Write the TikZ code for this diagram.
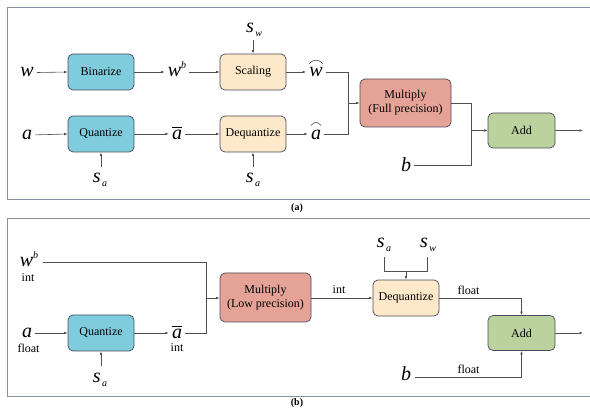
\documentclass[tikz,border=0pt]{standalone}
\usepackage{fontspec}
\setmainfont{Liberation Serif}
\usetikzlibrary{arrows.meta}
\definecolor{lc}{HTML}{505050}
\definecolor{bc}{HTML}{4A4A5A}
\definecolor{fc}{HTML}{8A90A4}
\definecolor{cy}{HTML}{7FCCDD}
\definecolor{pe}{HTML}{FDE8C9}
\definecolor{sa}{HTML}{E5A398}
\definecolor{gr}{HTML}{BCD29E}
\newcommand{\bigit}{\fontsize{20}{20}\selectfont\itshape}
\newcommand{\smit}{\fontsize{10}{10}\selectfont\itshape}
\newcommand{\supb}{\raisebox{8pt}{\smit b}}
\newcommand{\subs}[1]{\kern1.5pt\raisebox{-4pt}{\smit #1}}
\tikzset{
  ln/.style={draw=lc, line width=0.6pt},
  arr/.style={ln, -{Latex[length=3.5pt,width=2.6pt]}},
  box/.style={draw=bc, line width=0.7pt, rounded corners=5pt, minimum width=66pt, minimum height=36pt, inner sep=0pt, font=\fontsize{12}{14}\selectfont, align=center},
  var/.style={inner sep=3pt, font=\bigit},
  tag/.style={inner sep=1pt, font=\fontsize{12}{13}\selectfont},
  frame/.style={draw=fc, line width=0.9pt},
  hatmark/.style={draw=black!80, line width=0.5pt},
  captxt/.style={font=\fontsize{10}{11}\selectfont\bfseries, inner sep=0pt}
}
\begin{document}
\begin{tikzpicture}[x=1pt,y=-1pt]
\useasboundingbox (0,0) rectangle (590,409);
% frames
\draw[frame] (590,7) -- (7,7) -- (7,199) -- (590,199);
\draw[frame] (590,218) -- (7,218) -- (7,396) -- (590,396);
\node[captxt] (capa) at (297,208) {(a)};
\node[captxt] (capb) at (297,403.5) {(b)};

% ---------- panel (a)
\node[box, fill=cy] (bin) at (101,72) {Binarize};
\node[box, fill=cy] (qa) at (101,134) {Quantize};
\node[box, fill=pe] (sc) at (253,72) {Scaling};
\node[box, fill=pe] (dqa) at (253,134) {Dequantize};
\node[box, fill=sa, minimum width=91pt, minimum height=48pt] (mula) at (405.5,103) {Multiply\\(Full precision)};
\node[box, fill=gr, minimum width=67pt, minimum height=35pt] (adda) at (521.5,130.5) {Add};
\coordinate (outa) at (583,130.5);

\node[var, anchor=base] (wa) at (27,77) {w};
\node[var, anchor=base] (aa) at (27,139.5) {a};
\node[var, anchor=base] (wba) at (177,77) {w\supb};
\node[var, anchor=base] (abara) at (177,139.5) {$\overline{\hbox{\bigit\rule{0pt}{11pt}a}}$};
\node[var, anchor=base] (wha) at (316,77) {w};
\node[var, anchor=base] (aha) at (316,139.5) {a};
\draw[hatmark] ([xshift=-7pt,yshift=1pt]wha.north) .. controls ([xshift=-3pt,yshift=4pt]wha.north) .. ([xshift=0pt,yshift=4.5pt]wha.north) .. controls ([xshift=3pt,yshift=4pt]wha.north) .. ([xshift=7pt,yshift=1pt]wha.north);
\draw[hatmark] ([xshift=-5pt,yshift=1.5pt]aha.north) .. controls ([xshift=-2pt,yshift=4pt]aha.north) .. ([xshift=0pt,yshift=4.5pt]aha.north) .. controls ([xshift=2pt,yshift=4pt]aha.north) .. ([xshift=5pt,yshift=1.5pt]aha.north);
\node[var, anchor=base] (ba) at (406,172) {b};
\node[var, anchor=base] (swa) at (254,33) {s\subs{w}};
\node[var, anchor=base] (saa1) at (100,183) {s\subs{a}};
\node[var, anchor=base] (saa2) at (253,183) {s\subs{a}};

\draw[arr] (wa.east) -- (bin.west);
\draw[arr] (aa.east) -- (qa.west);
\draw[arr] (bin.east) -- (wba.west |- bin.east);
\draw[arr] (qa.east) -- (abara.west |- qa.east);
\draw[arr] (wba.east |- sc.west) -- (sc.west);
\draw[arr] (abara.east |- dqa.west) -- (dqa.west);
\draw[arr] (sc.east) -- (wha.west |- sc.east);
\draw[arr] (dqa.east) -- (aha.west |- dqa.east);
\draw[arr, shorten <=3pt] (saa1.north -| qa.south) -- (qa.south);
\draw[arr, shorten <=3pt] (saa2.north -| dqa.south) -- (dqa.south);
\draw[arr] (sc.north |- swa.south) -- (sc.north);
\coordinate (ja) at (348,103);
\draw[ln] (wha.east |- sc.east) -| (ja);
\draw[ln] (aha.east |- dqa.east) -| (ja);
\draw[arr] (ja) -- (mula.west);
\coordinate (jb) at (471,130.5);
\draw[ln] (mula.east) -| (jb);
\draw[ln] (ba.east) -| (jb);
\draw[arr] (jb) -- (adda.west);
\draw[arr] (adda.east) -- (outa);

% ---------- panel (b)
\node[box, fill=cy] (qb) at (101,333) {Quantize};
\node[box, fill=sa, minimum width=91pt, minimum height=49pt] (mulb) at (265.5,297.5) {Multiply\\(Low precision)};
\node[box, fill=pe] (dqb) at (406,298) {Dequantize};
\node[box, fill=gr, minimum width=67pt, minimum height=35pt] (addb) at (521.5,333) {Add};
\coordinate (outb) at (583,333);

\node[var, anchor=base] (wbb) at (29,267) {w\supb};
\node[tag] (intw) at (28,278) {int};
\node[var, anchor=base] (ab) at (27,337.5) {a};
\node[tag] (fla) at (28.5,348) {float};
\node[var, anchor=base] (abarb) at (177,338.5) {$\overline{\hbox{\bigit\rule{0pt}{11pt}a}}$};
\node[tag] (inta) at (177,348) {int};
\node[var, anchor=base] (sab) at (100,382) {s\subs{a}};
\node[var, anchor=base] (sab2) at (384,248) {s\subs{a}};
\node[var, anchor=base] (swb) at (428,248) {s\subs{w}};
\node[var, anchor=base] (bb) at (406,381) {b};
\node[tag] (intm) at (339,290) {int};
\node[tag] (fld) at (468.5,290) {float};
\node[tag] (flb) at (468.5,369) {float};

\draw[arr] (ab.east |- qb.west) -- (qb.west);
\draw[arr] (qb.east) -- (abarb.west |- qb.east);
\draw[arr, shorten <=3pt] (sab.north -| qb.south) -- (qb.south);
\coordinate (jc) at (206,298);
\coordinate (wbe) at (43,262);
\draw[ln] (wbe) -| (jc);
\draw[ln] (abarb.east |- qb.east) -| (jc);
\draw[arr] (jc) -- (mulb.west |- jc);
\draw[arr] (mulb.east |- dqb.west) -- (dqb.west);
\coordinate (jd) at (406,271);
\draw[ln] (384,257) |- (jd);
\draw[ln] (427,257) |- (jd);
\draw[arr] (jd) -- (dqb.north);
\draw[arr] (dqb.east) -| (addb.north);
\coordinate (be) at (415,377);
\draw[arr] (be) -| (addb.south);
\draw[arr] (addb.east) -- (outb);
\end{tikzpicture}
\end{document}
